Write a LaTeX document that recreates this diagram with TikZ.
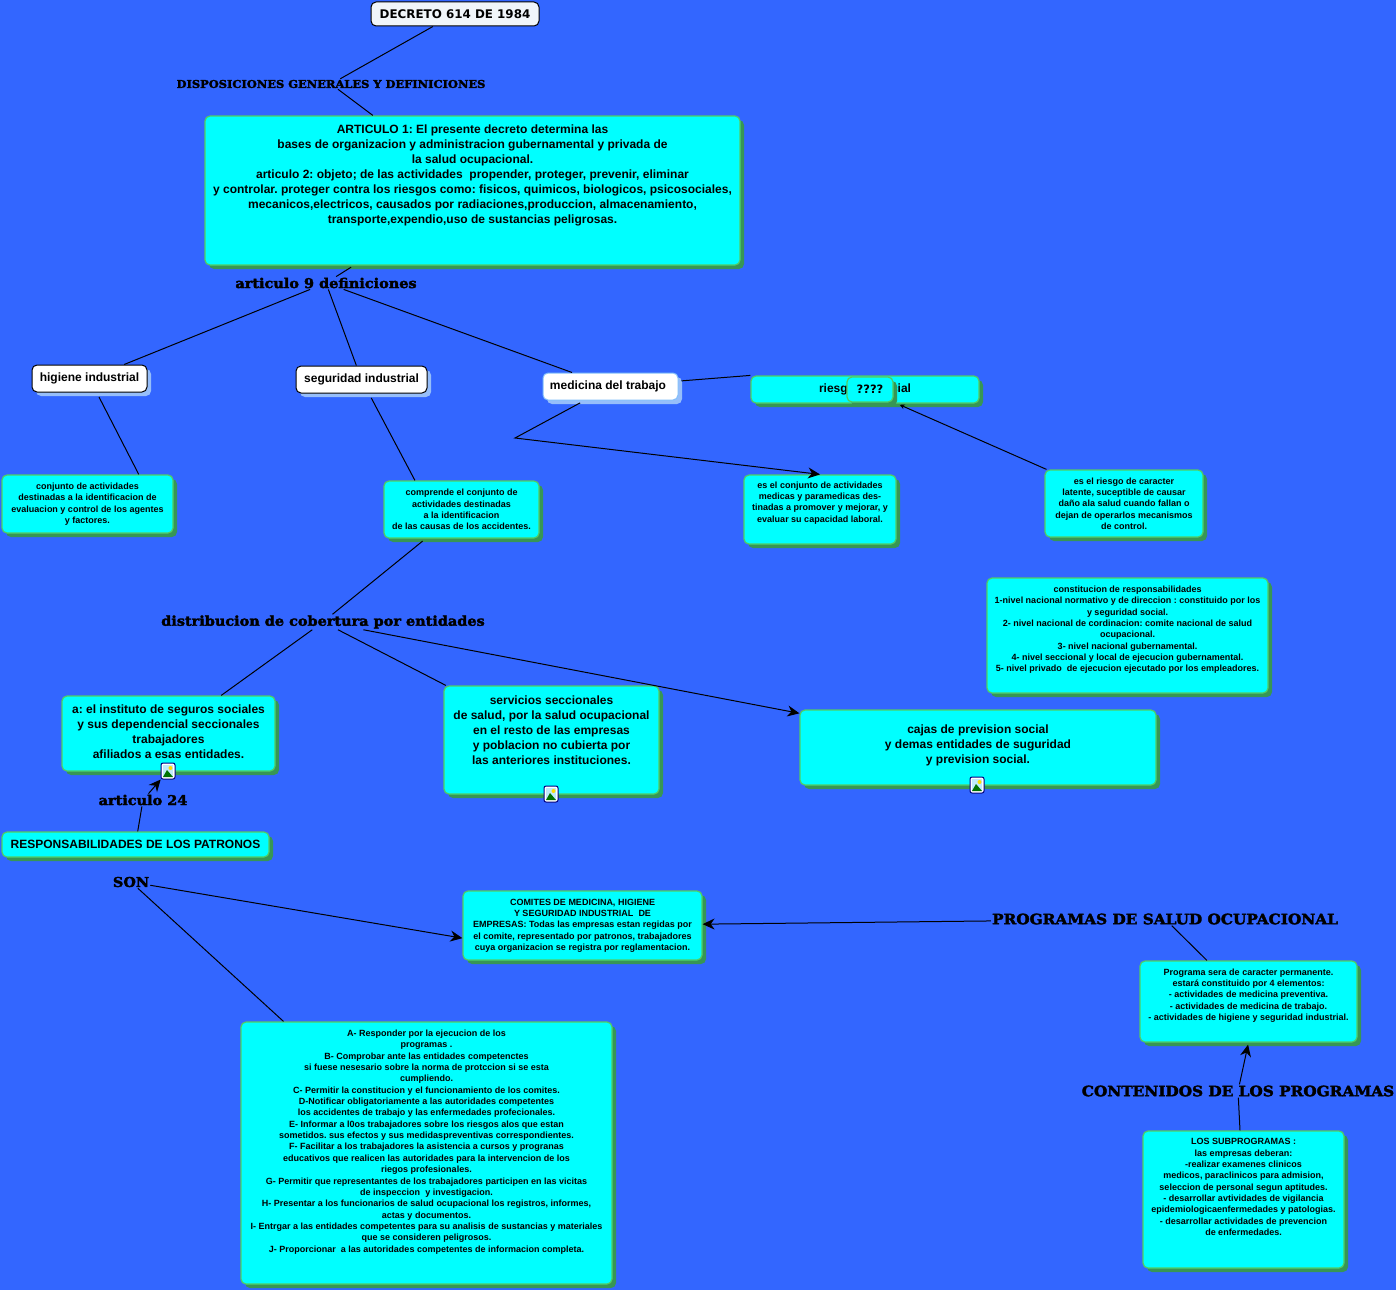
\documentclass[tikz,border=0pt]{standalone}
\usepackage{fontspec}
\setmainfont{Liberation Sans}
\newfontfamily\linkfont[BoldFeatures={FakeBold=2.4},FakeStretch=1.07]{DejaVu Serif}
\newfontfamily\wideface{DejaVu Sans}
\usetikzlibrary{calc, positioning, shadows, arrows.meta}
\definecolor{fondoazul}{RGB}{51,102,255}
\definecolor{cian}{RGB}{0,255,255}
\definecolor{bordeverde}{RGB}{80,205,100}
\definecolor{sombraverde}{RGB}{55,150,85}
\definecolor{sombraazul}{RGB}{150,190,250}
\definecolor{bordeazul}{RGB}{130,190,250}
\definecolor{casiblanco}{RGB}{240,245,250}
\tikzset{
  caja/.style={rectangle,rounded corners=5pt,fill=cian,draw=bordeverde,line width=1.2pt,
    inner sep=0pt,align=center,text=black,
    general shadow={shadow xshift=4pt,shadow yshift=-4pt,fill=sombraverde}},
  grande/.style={caja,font=\bfseries\fontsize{12}{15}\selectfont},
  chica/.style={caja,font=\bfseries\fontsize{9}{11.35}\selectfont},
  blanca/.style={rectangle,rounded corners=5pt,fill=white,draw=black,line width=1pt,
    inner sep=0pt,font=\bfseries\fontsize{12}{15}\selectfont,
    general shadow={shadow xshift=4pt,shadow yshift=-4pt,fill=sombraazul}},
  enlace/.style={inner sep=1pt,text=black,font=\linkfont\bfseries\fontsize{#1}{#1}\selectfont},
  linea/.style={line width=1pt,black},
  flecha/.style={linea,-{Stealth[length=12pt,width=11pt]}}
}
% little picture mark on a box
\newcommand{\marcafoto}[2]{
  \node[rectangle,rounded corners=2pt,fill=white,draw=blue!50!black,line width=1pt,
    minimum width=14pt,minimum height=16pt,inner sep=0pt] (#1) at (#2) {};
  \begin{scope}[shift={(#2)}]
    \fill[cyan!25] (-5,-6) rectangle (5,6);
    \fill[green!45!black] (-5,6) -- (-1,-1) -- (5,6) -- cycle;
    \fill[yellow!80!orange] (2.5,-3) circle (2);
  \end{scope}
}

\begin{document}
\frenchspacing
\begin{tikzpicture}[x=1pt,y=-1pt,>=Stealth]
  \path[use as bounding box,fill=fondoazul] (0,0) rectangle (1396,1290);
  % top of the map
  \node[rectangle,rounded corners=5pt,fill=casiblanco,draw=black,line width=1pt,inner sep=0pt,
    minimum width=168pt,minimum height=24pt,font=\wideface\bfseries\fontsize{11.9}{14}\selectfont] (decreto) at (455,14) {DECRETO 614 DE 1984};
  \node[enlace=10.7] (disposiciones) at (331,84) {DISPOSICIONES GENERALES Y DEFINICIONES};
  \node[grande,minimum width=535pt,minimum height=149pt] (articulo) at (472.5,190.5) {ARTICULO 1: El presente decreto determina las\\
    bases de organizacion y administracion gubernamental y privada de\\
    la salud ocupacional.\\
    articulo 2: objeto; de las actividades\ \ propender, proteger, prevenir, eliminar\\
    y controlar. proteger contra los riesgos como: fisicos, quimicos, biologicos, psicosociales,\\
    mecanicos,electricos, causados por radiaciones,produccion, almacenamiento,\\
    transporte,expendio,uso de sustancias peligrosas.\\[18pt]\mbox{}};
  \node[enlace=13.5] (nueve) at (326,283) {articulo 9 definiciones};
  % definitions row
  \node[blanca,minimum width=115pt,minimum height=27pt] (higiene) at (89.5,378.5) {higiene industrial};
  \node[blanca,minimum width=131pt,minimum height=27pt] (seguridad) at (361.5,379.5) {seguridad industrial};
  \node[blanca,draw=bordeazul,minimum width=135pt,minimum height=27pt] (medicina) at (610.5,386.5) {\hspace{-5pt}medicina del trabajo\hspace{5pt}};
  \node[grande,minimum width=228pt,minimum height=27pt] (riesgo) at (865,389.5) {riesgo potencial};
  \node[caja,font=\wideface\bfseries\fontsize{11.5}{14}\selectfont,minimum width=46pt,minimum height=25pt] (dudas) at (870,389.5) {????};
  \coordinate (quiebre) at (515,438);
  \node[chica,minimum width=171pt,minimum height=58pt] (defhigiene) at (87.5,504) {conjunto de actividades\\
    destinadas a la identificacion de\\
    evaluacion y control de los agentes\\
    y factores.};
  \node[chica,minimum width=155pt,minimum height=57pt] (defseguridad) at (461.5,509.5) {comprende el conjunto de\\
    actividades destinadas\\
    a la identificacion\\
    de las causas de los accidentes.};
  \node[chica,minimum width=152pt,minimum height=69pt] (defmedicina) at (820,509.5) {es el conjunto de actividades\\
    medicas y paramedicas des-\\
    tinadas a promover y mejorar, y\\
    evaluar su capacidad laboral.\\[3.6pt]\mbox{}};
  \node[chica,minimum width=158pt,minimum height=67pt] (defriesgo) at (1124,503.5) {es el riesgo de caracter\\
    latente, suceptible de causar\\
    daño ala salud cuando fallan o\\
    dejan de operarlos mecanismos\\
    de control.};
  \node[chica,minimum width=281pt,minimum height=115pt] (constitucion) at (1127.5,635.5) {constitucion de responsabilidades\\
    1-nivel nacional normativo y de direccion : constituido por los\\
    y seguridad social.\\
    2- nivel nacional de cordinacion: comite nacional de salud\\
    ocupacional.\\
    3- nivel nacional gubernamental.\\
    4- nivel seccional y local de ejecucion gubernamental.\\
    5- nivel privado\ \ de ejecucion ejecutado por los empleadores.\\[1.7pt]\mbox{}};
  % coverage
  \node[enlace=13.5] (distribucion) at (323,622) {distribucion de cobertura por entidades};
  \node[grande,minimum width=213pt,minimum height=75pt] (instituto) at (168.5,733.5) {a: el instituto de seguros sociales\\
    y sus dependencial seccionales\\
    trabajadores\\
    afiliados a esas entidades.\\[-11pt]\mbox{}};
  \node[grande,minimum width=215pt,minimum height=108pt] (servicios) at (551.5,740) {servicios seccionales\\
    de salud, por la salud ocupacional\\
    en el resto de las empresas\\
    y poblacion no cubierta por\\
    las anteriores instituciones.\\[5pt]\mbox{}};
  \node[grande,minimum width=356pt,minimum height=75pt] (cajas) at (978,747.5) {cajas de prevision social\\
    y demas entidades de suguridad\\
    y prevision social.\\[-8pt]\mbox{}};
  \marcafoto{fotoa}{168,771}
  \marcafoto{fotob}{551,794}
  \marcafoto{fotoc}{977,785}
  % employers
  \node[enlace=13.5] (veinticuatro) at (143,800) {articulo 24};
  \node[grande,minimum width=267pt,minimum height=25pt] (patronos) at (135.5,844.5) {RESPONSABILIDADES DE LOS PATRONOS};
  \node[enlace=13.5] (son) at (131,882) {SON};
  \node[chica,minimum width=239pt,minimum height=69pt] (comites) at (582.5,925.5) {COMITES DE MEDICINA, HIGIENE\\
    Y SEGURIDAD INDUSTRIAL\ \ DE\\
    EMPRESAS: Todas las empresas estan regidas por\\
    el comite, representado por patronos, trabajadores\\
    cuya organizacion se registra por reglamentacion.};
  \node[chica,minimum width=371pt,minimum height=262pt] (deberes) at (426.5,1153) {A- Responder por la ejecucion de los\\
    programas .\\
    B- Comprobar ante las entidades competenctes\\
    si fuese nesesario sobre la norma de protccion si se esta\\
    cumpliendo.\\
    C- Permitir la constitucion y el funcionamiento de los comites.\\
    D-Notificar obligatoriamente a las autoridades competentes\\
    los accidentes de trabajo y las enfermedades profecionales.\\
    E- Informar a l0os trabajadores sobre los riesgos alos que estan\\
    sometidos. sus efectos y sus medidaspreventivas correspondientes.\\
    F- Facilitar a los trabajadores la asistencia a cursos y progranas\\
    educativos que realicen las autoridades para la intervencion de los\\
    riegos profesionales.\\
    G- Permitir que representantes de los trabajadores participen en las vicitas\\
    de inspeccion\ \ y investigacion.\\
    H- Presentar a los funcionarios de salud ocupacional los registros, informes,\\
    actas y documentos.\\
    I- Entrgar a las entidades competentes para su analisis de sustancias y materiales\\
    que se consideren peligrosos.\\
    J- Proporcionar\ \ a las autoridades competentes de informacion completa.\\[12.6pt]\mbox{}};
  % health programmes
  \node[enlace=14.3] (programas) at (1165,919) {PROGRAMAS DE SALUD OCUPACIONAL};
  \node[chica,minimum width=217pt,minimum height=81pt] (programa) at (1248.5,1001.5) {Programa sera de caracter permanente.\\
    estará constituido por 4 elementos:\\
    - actividades de medicina preventiva.\\
    - actividades de medicina de trabajo.\\
    - actividades de higiene y seguridad industrial.\\[2.6pt]\mbox{}};
  \node[enlace=14.3] (contenidos) at (1238,1091) {CONTENIDOS DE LOS PROGRAMAS};
  \node[chica,minimum width=201pt,minimum height=137pt] (subprogramas) at (1243.5,1199.5) {LOS SUBPROGRAMAS :\\
    las empresas deberan:\\
    -realizar examenes clinicos\\
    medicos, paraclinicos para admision,\\
    seleccion de personal segun aptitudes.\\
    - desarrollar avtividades de vigilancia\\
    epidemiologicaenfermedades y patologias.\\
    - desarrollar actividades de prevencion\\
    de enfermedades.\\[13.6pt]\mbox{}};
  % connectors
  \draw[linea] (decreto) -- (disposiciones);
  \draw[linea] (disposiciones) -- (articulo);
  \draw[linea,shorten <=3pt] (articulo) -- (nueve);
  \draw[linea] (nueve) -- (higiene);
  \draw[linea] (nueve) -- (seguridad);
  \draw[linea] (nueve) -- (medicina);
  \draw[linea,shorten <=3pt] (medicina) -- (riesgo.north west);
  \draw[linea,shorten <=5pt] (higiene) -- (defhigiene.30);
  \draw[linea,shorten <=5pt] (seguridad) -- (defseguridad.148);
  \draw[flecha,shorten <=5pt] (medicina) -- (quiebre) -- (defmedicina.north);
  \draw[linea,-{Stealth[length=5pt,width=5pt]},shorten >=3pt] (defriesgo) -- (riesgo);
  \draw[linea,shorten <=4pt] (defseguridad) -- (distribucion);
  \draw[linea] (distribucion) -- (instituto);
  \draw[linea] (distribucion) -- (servicios);
  \draw[flecha] (distribucion) -- (cajas);
  \draw[linea] (patronos) -- (veinticuatro);
  \draw[flecha] (veinticuatro) -- (fotoa);
  \draw[flecha] (son) -- (comites.186);
  \draw[linea] (son) -- (deberes);
  \draw[flecha] (programas) -- (comites);
  \draw[linea] (programas) -- (programa);
  \draw[linea] (subprogramas) -- (contenidos);
  \draw[flecha,shorten >=2pt] (contenidos) -- (programa.south);
\end{tikzpicture}
\end{document}
